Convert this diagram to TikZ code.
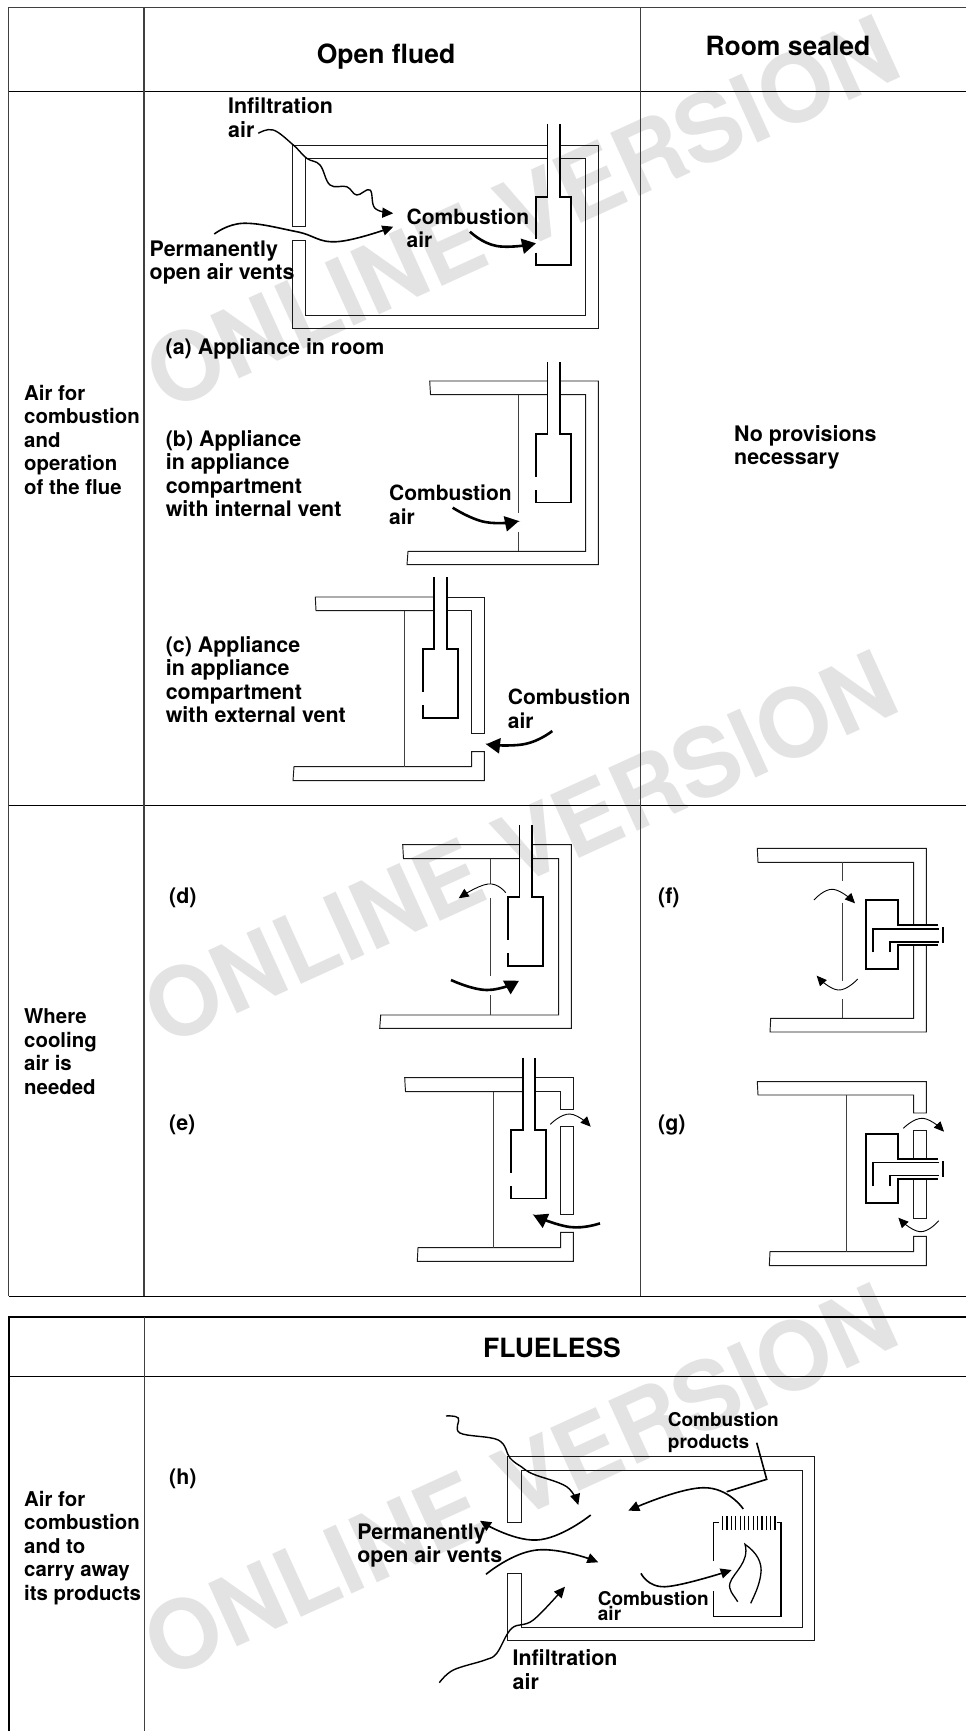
\documentclass[tikz,border=0pt]{standalone}
\usepackage{fontspec}
\setmainfont{TeX Gyre Heros}
\usetikzlibrary{arrows.meta}
\tikzset{
  wall/.style={line width=.95pt,black!90,line join=miter},
  parti/.style={line width=.9pt,black!75},
  appl/.style={line width=1.9pt,black,line join=miter},
  gridline/.style={line width=1pt,black!75},
  gridbold/.style={line width=1pt,black},
  thinarrow/.style={line width=.9pt,black,-{Triangle[length=10pt,width=9pt]}},
  medarrow/.style={line width=1.6pt,black,-{Triangle[length=11pt,width=10pt]}},
  wavearrow/.style={line width=1.4pt,black,-{Triangle[length=11pt,width=10pt]}},
  thickarrow/.style={line width=2.6pt,black,-{Triangle[length=14pt,width=15pt]}},
  lab/.style={anchor=base west,inner sep=0pt,align=left,font=\bfseries\fontsize{21.4}{23.4}\selectfont,black},
  labc/.style={lab,font=\bfseries\fontsize{21}{23.4}\selectfont},
  labrow/.style={lab,font=\bfseries\fontsize{20.4}{23.6}\selectfont},
  labsmall/.style={lab,font=\bfseries\fontsize{19}{21.7}\selectfont},
  labtight/.style={lab,font=\bfseries\fontsize{19}{15.7}\selectfont},
  head/.style={anchor=base,inner sep=0pt,font=\bfseries\fontsize{26.5}{30}\selectfont,black},
  water/.style={inner sep=0pt,rotate=24.5,font=\bfseries\fontsize{95}{100}\selectfont,text=black!11}
}
\newcommand\flueappl[2]{%
  \draw[appl] (#1+11.5,#2-72.5)--(#1+11.5,#2)--(#1,#2)--(#1,#2+42.5);
  \draw[appl] (#1,#2+56)--(#1,#2+68.5)--(#1+35,#2+68.5)--(#1+35,#2)--(#1+24,#2)--(#1+24,#2-72.5);}
\newcommand\sealedappl[2]{%
  \draw[appl] (#2+72.5,#1+25)--(#2+32,#1+25)--(#2+32,#1)--(#2,#1)--(#2,#1+68.7)--(#2+32,#1+68.7)--(#2+32,#1+44.7)--(#2+72.5,#1+44.7);
  \draw[appl] (#2+7.3,#1+52)--(#2+7.3,#1+28.5)--(#2+73.5,#1+28.5);
  \draw[appl] (#2+24,#1+52)--(#2+24,#1+41.5)--(#2+73.5,#1+41.5);
  \draw[appl] (#2+77.5,#1+27)--(#2+77.5,#1+43);}
\begin{document}
\begin{tikzpicture}[x=1pt,y=-1pt]
\useasboundingbox (0,0) rectangle (966,1731);
\fill[white] (0,0) rectangle (966,1731);
% watermark
\node[water] (wm1) at (522,212) {ONLINE VERSION};
\node[water] (wm2) at (520,847) {ONLINE VERSION};
\node[water] (wm3) at (520,1480) {ONLINE VERSION};
% table 1
\draw[gridline] (966,8)--(8.5,8)--(8.5,1296);
\draw[gridbold] (8.5,1296)--(966,1296);
\draw[gridbold] (8.5,91.5)--(966,91.5);
\draw[gridbold] (8.5,805)--(966,805);
\draw[gridline,line width=1.1pt] (144,8)--(144,1296);
\draw[gridline,line width=1.1pt] (640.5,8)--(640.5,1296);
% table 2
\draw[gridbold,line width=1.3pt] (966,1317)--(9,1317)--(9,1731);
\draw[gridbold] (9,1376.5)--(966,1376.5);
\draw[gridline,line width=1.1pt] (144.7,1317)--(144.7,1731);
% headers
\node[head] (h1) at (386,64) {Open flued};
\node[head] (h2) at (788,56) {Room sealed};
\node[head] (h3) at (552,1357) {FLUELESS};
% row labels
\node[labrow] (r1) at (24,494.5) {Air for\\combustion\\and\\operation\\of the flue};
\node[labrow] (r2) at (24,1094.5) {Where\\cooling\\air is\\needed};
\node[labrow] (r3) at (24,1600.5) {Air for\\combustion\\and to\\carry away\\its products};
\node[lab] (np) at (734,464.4) {No provisions\\necessary};
% (a)
\draw[wall] (547.3,145)--(292.3,145)--(292.3,226)--(305.7,226)--(305.7,158)--(547.3,158);
\draw[wall] (560,145)--(598,145)--(598,328)--(292.3,328)--(292.3,240)--(305.7,240)--(305.7,315)--(585.7,315)--(585.7,158)--(560,158);
\flueappl{536}{196.7}
\node[lab] (a1) at (228,137.2) {Infiltration\\air};
\node[lab] (a2) at (149.5,279.8) {Permanently\\open air vents};
\node[labc] (a3) at (406.5,247.7) {Combustion\\air};
\node[lab] (a4) at (165.5,354.5) {(a) Appliance in room};
\draw[wavearrow] plot[smooth,tension=.65] coordinates {(258.3,133.3)(273.3,130)(293.3,145)(306.7,158.3)(320,165)(330,185)(346.7,186.7)(356.7,195)(370,190)(375,208.3)(393.3,213.3)};
\draw[medarrow] plot[smooth,tension=.7] coordinates {(214.3,234)(243.3,223.3)(296.7,231.7)(336.7,241.7)(393.3,226.7)};
\draw[thickarrow] plot[smooth,tension=.8] coordinates {(470,231.7)(496.7,246)(536,243.3)};
% (b)
\draw[wall] (547.7,381)--(429.7,381)--(430.5,394.7)--(547.7,394.7);
\draw[wall] (560.3,381)--(598.3,381)--(598.3,564.7)--(407,564.7)--(408,551.3)--(585.7,551.3)--(585.7,394.7)--(560.3,394.7);
\draw[parti] (518,394.7)--(518,513.3) (518,531.7)--(518,551.3);
\flueappl{536}{434}
\node[lab] (b1) at (165.6,516.5) {(b) Appliance\\in appliance\\compartment\\with internal vent};
\node[labc] (b2) at (389,524) {Combustion\\air};
\draw[thickarrow] plot[smooth,tension=.8] coordinates {(452.7,507.7)(485,522)(519,521)};
% (c)
\draw[wall] (434.3,597)--(315.3,597)--(316,610.7)--(434.3,610.7);
\draw[wall] (446.7,597)--(484.3,597)--(484.3,733.3)--(471.7,733.3)--(471.7,610.7)--(446.7,610.7);
\draw[wall] (471.7,766.7)--(471.7,751.7)--(484.3,751.7)--(484.3,780.7)--(293,780.7)--(294,766.7)--cycle;
\draw[parti] (404,610.7)--(404,766.7);
\flueappl{422.7}{649.3}
\node[lab] (c1) at (165.6,722.5) {(c) Appliance\\in appliance\\compartment\\with external vent};
\node[labc] (c2) at (507.7,728.2) {Combustion\\air};
\draw[thickarrow] plot[smooth,tension=.8] coordinates {(552.3,731)(525,744)(486,744.3)};
% (d)
\draw[wall] (520,844.7)--(402.7,844.7)--(403.5,858.7)--(520,858.7);
\draw[wall] (532.7,844.7)--(571.3,844.7)--(571.3,1028.3)--(379.7,1028.3)--(380.7,1015)--(558.7,1015)--(558.7,858.7)--(532.7,858.7);
\draw[parti] (490.7,858.7)--(490.7,884) (490.7,898.3)--(490.7,975.7) (490.7,995)--(490.7,1015);
\flueappl{508}{897.3}
\node[lab] (d) at (169,903) {(d)};
\draw[thinarrow] plot[smooth,tension=.8] coordinates {(505.7,892.7)(488,884)(458.7,898.3)};
\draw[thickarrow] plot[smooth,tension=.8] coordinates {(451,980)(487,990)(519,980.7)};
% (e)
\draw[wall] (523.7,1077.7)--(404.7,1077.7)--(405.5,1091.7)--(523.7,1091.7);
\draw[wall] (536,1077.7)--(573.3,1077.7)--(573.3,1109)--(560.7,1109)--(560.7,1091.7)--(536,1091.7);
\draw[wall] (560.7,1126.7) rectangle (573.3,1214.3);
\draw[wall] (560.7,1247.7)--(560.7,1232.3)--(573.3,1232.3)--(573.3,1261.3)--(417.3,1261.3)--(418,1247.7)--cycle;
\draw[parti] (493,1091.7)--(493,1247.7);
\flueappl{511.3}{1130}
\node[lab] (e) at (169,1130) {(e)};
\draw[thinarrow] plot[smooth,tension=.8] coordinates {(550.3,1124.3)(570,1114)(590.7,1126.7)};
\draw[thickarrow] plot[smooth,tension=.8] coordinates {(600,1223.3)(570,1227)(533.3,1215)};
% (f)
\draw[wall] (913.7,925)--(913.7,862.3)--(758,862.3)--(757.3,848.3)--(926.3,848.3)--(926.3,925);
\draw[wall] (913.7,945)--(913.7,1018.3)--(770.7,1018.3)--(770,1032)--(926.3,1032)--(926.3,945);
\draw[parti] (842.7,862.3)--(842.7,881) (842.7,902.7)--(842.7,980.7) (842.7,999.3)--(842.7,1018.3);
\sealedappl{900.3}{865.7}
\node[lab] (f) at (658,903) {(f)};
\draw[thinarrow] plot[smooth,tension=.8] coordinates {(814,900)(833,889.3)(855,903.3)};
\draw[thinarrow] plot[smooth,tension=.8] coordinates {(857.7,979)(838,990)(816.7,975.7)};
% (g)
\draw[wall] (926.3,1113)--(913.7,1113)--(913.7,1095)--(758,1095)--(757.3,1081.7)--(926.3,1081.7)--cycle;
\draw[wall] (913.7,1158.7)--(913.7,1130.7)--(926.3,1130.7)--(926.3,1158.7);
\draw[wall] (913.7,1178.3)--(913.7,1218.3)--(926.3,1218.3)--(926.3,1178.3);
\draw[wall] (913.7,1251.7)--(913.7,1236.3)--(926.3,1236.3)--(926.3,1265.7)--(769.3,1265.7)--(770,1251.7)--cycle;
\draw[parti] (846,1095)--(846,1251.7);
\sealedappl{1134}{865.7}
\node[lab] (g) at (658,1130) {(g)};
\draw[thinarrow] plot[smooth,tension=.8] coordinates {(903.3,1128.3)(923,1118.3)(944,1131.7)};
\draw[thinarrow] plot[smooth,tension=.8] coordinates {(938.7,1220.7)(920,1231.7)(898.3,1217.7)};
% (h)
\draw[wall] (507.7,1522.3)--(507.7,1456)--(814.3,1456)--(814.3,1640.7)--(507.7,1640.7)--(507.7,1573.3)--(521.7,1573.3)--(521.7,1627)--(802,1627)--(802,1470)--(521.7,1470)--(521.7,1522.3)--cycle;
\draw[appl,line width=1.5pt] (713.3,1561)--(713.3,1522.7)--(719.3,1522.7);
\draw[appl,line width=1.5pt] (776.7,1522.7)--(781,1522.7)--(781,1616.7)--(713.3,1616.7)--(713.3,1591.3);
\foreach \k in {0,...,12}{\draw[line width=1.2pt] (722.7+\k*4.36,1516)--(722.7+\k*4.36,1530);}
\draw[line width=1.3pt] (737.7,1601.7) .. controls (733,1594) and (728,1590) .. (730,1583) .. controls (733,1573) and (750,1562) .. (745,1544.3) .. controls (756,1552) and (763,1562) .. (760.7,1575) .. controls (759,1586) and (755,1594) .. (750.7,1603.3);
\node[labsmall] (h4) at (667.7,1448.3) {Combustion\\products};
\node[lab] (h5) at (357.2,1562.7) {Permanently\\open air vents};
\node[labtight] (h6) at (597.7,1620.7) {Combustion\\air};
\node[lab] (h7) at (512.5,1689) {Infiltration\\air};
\node[lab] (h8) at (169,1484) {(h)};
\draw[wavearrow] plot[smooth,tension=.6] coordinates {(446,1416)(458.3,1418)(460,1433)(498.3,1440)(510,1458)(521.7,1467)(533,1474)(566.7,1486.7)(578.3,1505)};
\draw[medarrow] plot[smooth,tension=.8] coordinates {(590.7,1515)(536.7,1540)(480,1520.7)};
\draw[medarrow] plot[smooth,tension=.8] coordinates {(486,1574.3)(536.7,1550)(598.3,1562.3)};
\draw[medarrow] plot[smooth,tension=.8] coordinates {(743.3,1509)(703.3,1487.7)(628.3,1510.7)};
\draw[line width=1.6pt,line join=miter] (756.7,1442.7)--(766.7,1479.3)--(726.7,1491.7);
\draw[medarrow] plot[smooth,tension=.7] coordinates {(641,1573.3)(665,1586.7)(731.7,1570)};
\draw[wavearrow] plot[smooth,tension=.6] coordinates {(439.3,1682.7)(453.3,1670)(485,1660)(496.7,1653.3)(511.7,1628.3)(533.3,1620)(565,1586.7)};
\end{tikzpicture}
\end{document}
